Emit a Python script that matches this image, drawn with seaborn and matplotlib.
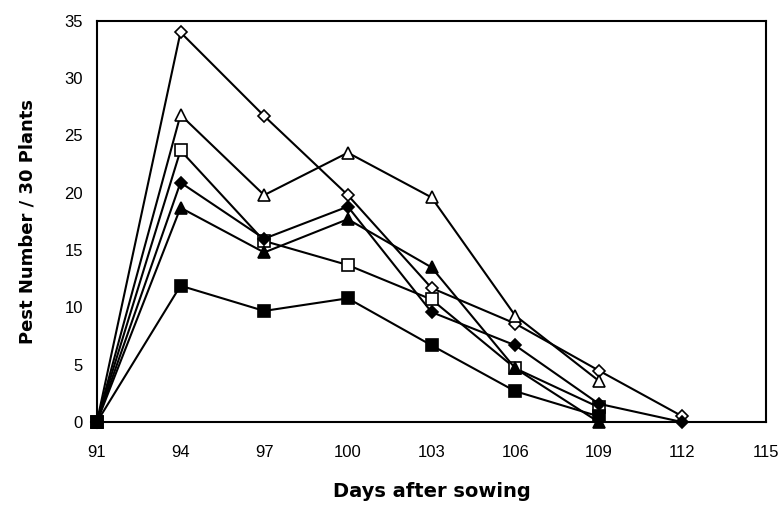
import matplotlib
matplotlib.use("Agg")
import matplotlib.pyplot as plt
import seaborn as sns
import pandas as pd

days = [91, 94, 97, 100, 103, 106, 109, 112]

open_diamond = [0, 34.0, 26.7, 19.8, 11.7, 8.6, 4.5, 0.5]
open_triangle = [0, 26.8, 19.8, 23.5, 19.6, 9.3, 3.6]
open_square = [0, 23.7, 15.8, 13.7, 10.7, 4.7, 1.3]
filled_diamond = [0, 20.9, 16.0, 18.8, 9.6, 6.7, 1.6, 0]
filled_triangle = [0, 18.7, 14.8, 17.7, 13.5, 4.7, 0]
filled_square = [0, 11.9, 9.7, 10.8, 6.7, 2.7, 0.5]

x_ticks = [91, 94, 97, 100, 103, 106, 109, 112, 115]
y_ticks = [0, 5, 10, 15, 20, 25, 30, 35]

series = [
    ("open_diamond", open_diamond, "D", "white", 6),
    ("open_triangle", open_triangle, "^", "white", 8),
    ("open_square", open_square, "s", "white", 9),
    ("filled_diamond", filled_diamond, "D", "black", 6),
    ("filled_triangle", filled_triangle, "^", "black", 8),
    ("filled_square", filled_square, "s", "black", 8),
]

sns.set_style("white")
plt.rcParams["font.family"] = ["Liberation Sans", "DejaVu Sans"]

fig = plt.figure(figsize=(7.81, 5.08), dpi=100)
ax = fig.add_axes([0.124, 0.169, 0.857, 0.790])

for name, vals, mk, fc, ms in series:
    df = pd.DataFrame({"day": days[:len(vals)], "value": vals})
    sns.lineplot(data=df, x="day", y="value", ax=ax, color="black",
                 linewidth=1.5, marker=mk, markersize=ms,
                 markerfacecolor=fc, markeredgecolor="black",
                 markeredgewidth=1.2, zorder=3)

ax.set_xlim(91, 115)
ax.set_ylim(0, 35)
ax.set_xticks(x_ticks)
ax.set_yticks(y_ticks)
ax.tick_params(axis="x", direction="inout", length=7, width=1, labelsize=12,
               pad=13, colors="black", labelcolor="black")
ax.tick_params(axis="y", direction="out", length=4, width=1, labelsize=12,
               pad=6, colors="black", labelcolor="black")
for s in ax.spines.values():
    s.set_color("black")
    s.set_linewidth(1.5)
    s.set_visible(True)
for ln in ax.lines:
    ln.set_clip_on(False)

ax.set_xlabel("Days after sowing", fontsize=14, fontweight="bold",
              family=["DejaVu Sans"], labelpad=16, color="black")
ax.set_ylabel("Pest Number / 30 Plants", fontsize=13, fontweight="bold",
              family=["DejaVu Sans"], labelpad=20, color="black")

fig.savefig("out.png", dpi=100, facecolor="white")
